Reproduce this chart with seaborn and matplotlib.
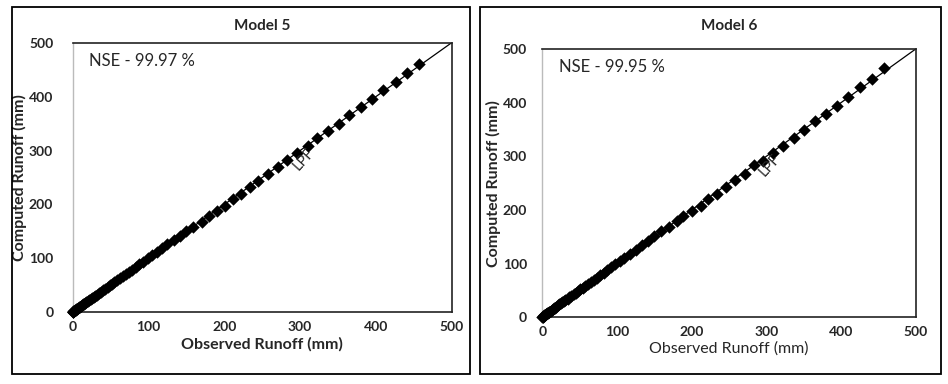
import matplotlib
matplotlib.use("Agg")
import matplotlib.pyplot as plt
import seaborn as sns
import pandas as pd
from matplotlib.patches import Rectangle

# observed / computed runoff (mm)
m5_observed = [457, 441, 426, 410, 395, 380, 365, 351, 337, 322, 310, 296, 283, 271,
               258, 245, 234, 222, 212, 201, 190, 180, 170, 159, 150, 141, 133, 125,
               118, 111, 105, 99, 93, 88, 83, 78, 74, 70, 66, 62, 58, 55, 52, 49, 46,
               43, 40, 37, 35, 32, 30, 28, 26, 24, 22, 20, 18, 16.5, 15, 13.5, 12,
               10.5, 9, 8, 7, 6, 5, 4, 3, 2.2, 1.5, 1, 0.5, 0.2, 0]
m5_computed = [460, 443, 427, 412, 395, 380, 365, 350, 336, 323, 308, 295, 282, 269,
               257, 243, 232, 220, 210, 198, 188, 178, 167, 159, 151, 142, 134, 126,
               119, 112, 106, 100, 94, 89, 84, 79, 75, 71, 67, 63, 59, 56, 53, 50, 47,
               44, 41, 38, 36, 33, 31, 29, 27, 25, 23, 21, 19, 17.5, 16, 14.5, 13,
               11.5, 10, 9, 8, 7, 6, 5, 3.8, 3, 2.2, 1.5, 1, 0.5, 0]

m6_observed = [457, 441, 425, 409, 394, 380, 365, 350, 337, 322, 309, 296, 283, 271,
               258, 246, 234, 222, 212, 200, 189, 180, 169, 159, 149, 141, 133, 125,
               117, 110, 104, 98, 92, 87, 82, 77, 73, 69, 65, 61, 57, 54, 51, 48, 45,
               42, 39, 36, 34, 31, 29, 27, 25, 23, 21, 19, 17, 15.5, 14, 12.5, 11,
               9.5, 8.5, 7.5, 6.5, 5.5, 4.5, 3.5, 2.5, 1.8, 1.2, 0.7, 0.3, 0]
m6_computed = [464, 445, 429, 411, 394, 379, 365, 349, 335, 320, 306, 292, 283, 267,
               255, 242, 230, 220, 208, 198, 189, 179, 169, 160, 152, 142, 134, 126,
               118, 111, 105, 99, 93, 88, 83, 78, 74, 70, 66, 62, 58, 55, 52, 49, 46,
               43, 40, 37, 35, 32, 30, 28, 26, 24, 22, 20, 18, 16.5, 15, 13.5, 12,
               10.5, 9.5, 8.5, 7.5, 6.5, 5.5, 4.5, 3.5, 2.5, 1.8, 1.2, 0.6, 0]

one_to_one = [0, 500]
ticks = [0, 100, 200, 300, 400, 500]

panels = [
    dict(title="Model 5", nse="NSE - 99.97 %", obs=m5_observed, comp=m5_computed,
         rect=[72.7, 312.3, 451.7, 42.7], box=[12, 7, 470, 374],
         ylab_x=27.5, xlab_bold=True, ypad=14),
    dict(title="Model 6", nse="NSE - 99.95 %", obs=m6_observed, comp=m6_computed,
         rect=[542.3, 317.3, 915.7, 49], box=[480, 7, 941, 374],
         ylab_x=501, xlab_bold=False, ypad=11),
]

W, H = 948, 384
sns.set_style("white")
plt.rcParams["font.family"] = ["Lato", "DejaVu Sans"]

fig = plt.figure(figsize=(W / 100, H / 100), dpi=100)

for p in panels:
    # outer frame around each chart
    x0, y0, x1, y1 = p["box"]
    fig.patches.append(Rectangle((x0 / W, 1 - y1 / H), (x1 - x0) / W, (y1 - y0) / H,
                                 transform=fig.transFigure, fill=False,
                                 edgecolor="black", linewidth=1.3))

    l, b, r, t = p["rect"]
    ax = fig.add_axes([l / W, 1 - b / H, (r - l) / W, (b - t) / H])
    df = pd.DataFrame({"obs": p["obs"], "comp": p["comp"]})

    sns.lineplot(x=one_to_one, y=one_to_one, color="black", linewidth=0.9, ax=ax)
    sns.scatterplot(data=df, x="obs", y="comp", marker="D", s=40, color="black",
                    edgecolor="black", linewidth=0, ax=ax, zorder=3, clip_on=False)

    ax.set_xlim(0, 500)
    ax.set_ylim(0, 500)
    ax.set_xticks(ticks)
    ax.set_yticks(ticks)
    ax.tick_params(length=0, labelsize=10)
    ax.tick_params(axis="y", pad=p["ypad"])
    ax.tick_params(axis="x", pad=6)
    for lab in ax.get_xticklabels() + ax.get_yticklabels():
        lab.set_fontweight("bold")

    for side in ["top", "right", "bottom"]:
        ax.spines[side].set_color("#222222")
        ax.spines[side].set_linewidth(1.2)
    ax.spines["left"].set_color("#bbbbbb")
    ax.spines["left"].set_linewidth(1.0)

    ax.set_xlabel("Observed Runoff (mm)", fontsize=11.5,
                  fontweight="bold" if p["xlab_bold"] else "normal", labelpad=3)
    ax.set_ylabel("Computed Runoff (mm)", fontsize=11.5, fontweight="bold")
    ax.yaxis.set_label_coords((p["ylab_x"] - l) / (r - l), 0.5)

    fig.text((l + r) / 2 / W, 1 - (p["box"][1] + 19) / H, p["title"],
             ha="center", va="center", fontsize=11, fontweight="bold")

    ax.text(22, 466, p["nse"], fontsize=12, va="center", ha="left")
    ax.text(305, 283, "LPF", fontsize=10.5, rotation=48, ha="center", va="center",
            zorder=5)

fig.savefig("out.png", dpi=100)
